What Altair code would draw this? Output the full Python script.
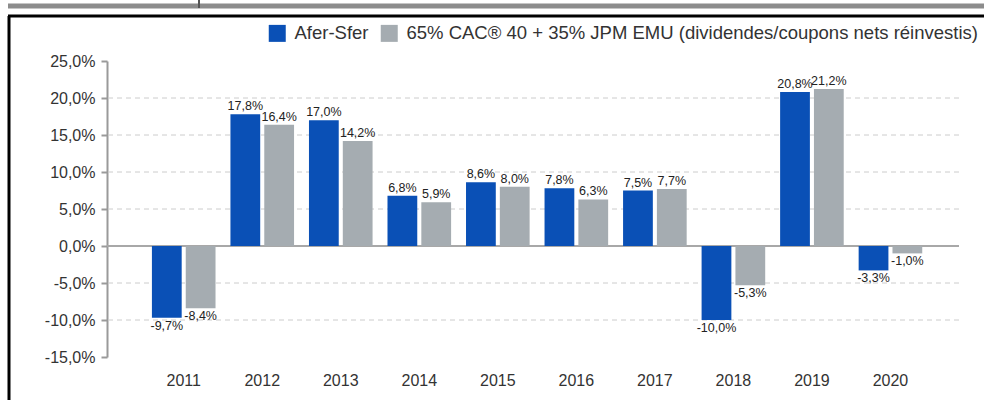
import altair as alt
import pandas as pd

years = ["2011", "2012", "2013", "2014", "2015", "2016", "2017", "2018", "2019", "2020"]
series = ["Afer-Sfer", "65% CAC® 40 + 35% JPM EMU (dividendes/coupons nets réinvestis)"]
afer = [-9.7, 17.8, 17.0, 6.8, 8.6, 7.8, 7.5, -10.0, 20.8, -3.3]
bench = [-8.4, 16.4, 14.2, 5.9, 8.0, 6.3, 7.7, -5.3, 21.2, -1.0]
colors = ["#0a50b6", "#a5acb1"]
y_ticks = [25, 20, 15, 10, 5, 0, -5, -10, -15]
grid_vals = [20, 15, 10, 5, -5, -10]


def fr(v):
    s = f"{abs(v):.1f}".replace(".", ",") + "%"
    return ("-" if v < 0 else "") + s


rows = []
for i, y in enumerate(years):
    for s, vals in zip(series, [afer, bench]):
        rows.append({"year": y, "series": s, "value": vals[i], "label": fr(vals[i])})
df = pd.DataFrame(rows)

W, H = 852, 296
FONT = "Liberation Sans"

x_axis = alt.Axis(labelAngle=0, ticks=False, domain=False, labelFontSize=16,
                  labelColor="#333333", labelPadding=15, labelFont=FONT, title=None)
x_scale = alt.Scale(paddingInner=0.19, paddingOuter=0.52, align=0.55)
y_axis = alt.Axis(values=y_ticks, grid=False, tickSize=6, tickColor="#9a9a9a",
                  domainColor="#9a9a9a", domainWidth=2, tickWidth=2,
                  labelFontSize=16, labelColor="#333333", labelPadding=6,
                  labelFont=FONT, labelOverlap=False, labelFlush=False, title=None,
                  labelExpr="(datum.value < 0 ? '-' : '') + replace(format(abs(datum.value), '.1f'), '.', ',') + '%'")
y_scale = alt.Scale(domain=[-15, 25], nice=False, zero=False)


def X():
    return alt.X("year:N", sort=years, scale=x_scale, axis=x_axis, title=None)


def Y(field="value:Q"):
    return alt.Y(field, scale=y_scale, axis=y_axis, title=None)


xoff = alt.XOffset("series:N", sort=series, scale=alt.Scale(paddingInner=0.12))

base = alt.Chart(df)

bars = base.mark_bar().encode(
    x=X(),
    xOffset=xoff,
    y=Y(),
    color=alt.Color("series:N", sort=series,
                    scale=alt.Scale(domain=series, range=colors),
                    legend=alt.Legend(title=None, orient="none", legendX=161, legendY=-37,
                                      direction="horizontal", symbolType="square",
                                      symbolSize=289, symbolStrokeWidth=0,
                                      labelFontSize=18.5, labelFont=FONT, labelColor="#333333",
                                      labelLimit=0, columnPadding=11, labelOffset=8)),
)

pos_labels = base.transform_filter("datum.value >= 0").mark_text(
    baseline="bottom", dy=-1, fontSize=12.5, font=FONT, color="#222222"
).encode(x=X(), xOffset=xoff, y=Y(), text="label:N")

neg_labels = base.transform_filter("datum.value < 0").mark_text(
    baseline="top", dy=2, fontSize=12.5, font=FONT, color="#222222"
).encode(x=X(), xOffset=xoff, y=Y(), text="label:N")

grid = alt.Chart(pd.DataFrame({"value": grid_vals})).mark_rule(
    color="#cccccc", strokeDash=[5, 4], strokeWidth=1
).encode(y=Y())

zero = alt.Chart(pd.DataFrame({"value": [0]})).mark_rule(
    color="#a8a8a8", strokeWidth=2
).encode(y=Y())

one = pd.DataFrame({"k": [0]})
frame_top = alt.Chart(one).mark_rule(color="#000000", strokeWidth=3).encode(
    x=alt.value(-99), x2=alt.value(900), y=alt.value(-45))
frame_left = alt.Chart(one).mark_rule(color="#000000", strokeWidth=3).encode(
    x=alt.value(-98), y=alt.value(-45), y2=alt.value(360))
gray_top = alt.Chart(one).mark_rule(color="#8c8c8c", strokeWidth=5).encode(
    x=alt.value(-99), x2=alt.value(900), y=alt.value(-55))
mark_p = alt.Chart(one).mark_rule(color="#555555", strokeWidth=2).encode(
    x=alt.value(92), y=alt.value(-61), y2=alt.value(-53))

chart = alt.layer(grid, zero, bars, pos_labels, neg_labels,
                  gray_top, mark_p, frame_top, frame_left).properties(
    width=W, height=H,
    autosize=alt.AutoSizeParams(type="none"),
    padding={"left": 107, "top": 61, "right": 25, "bottom": 43},
    background="white",
).configure_view(stroke=None)

chart.save("out.html", embed_options={"renderer": "svg", "actions": False})
